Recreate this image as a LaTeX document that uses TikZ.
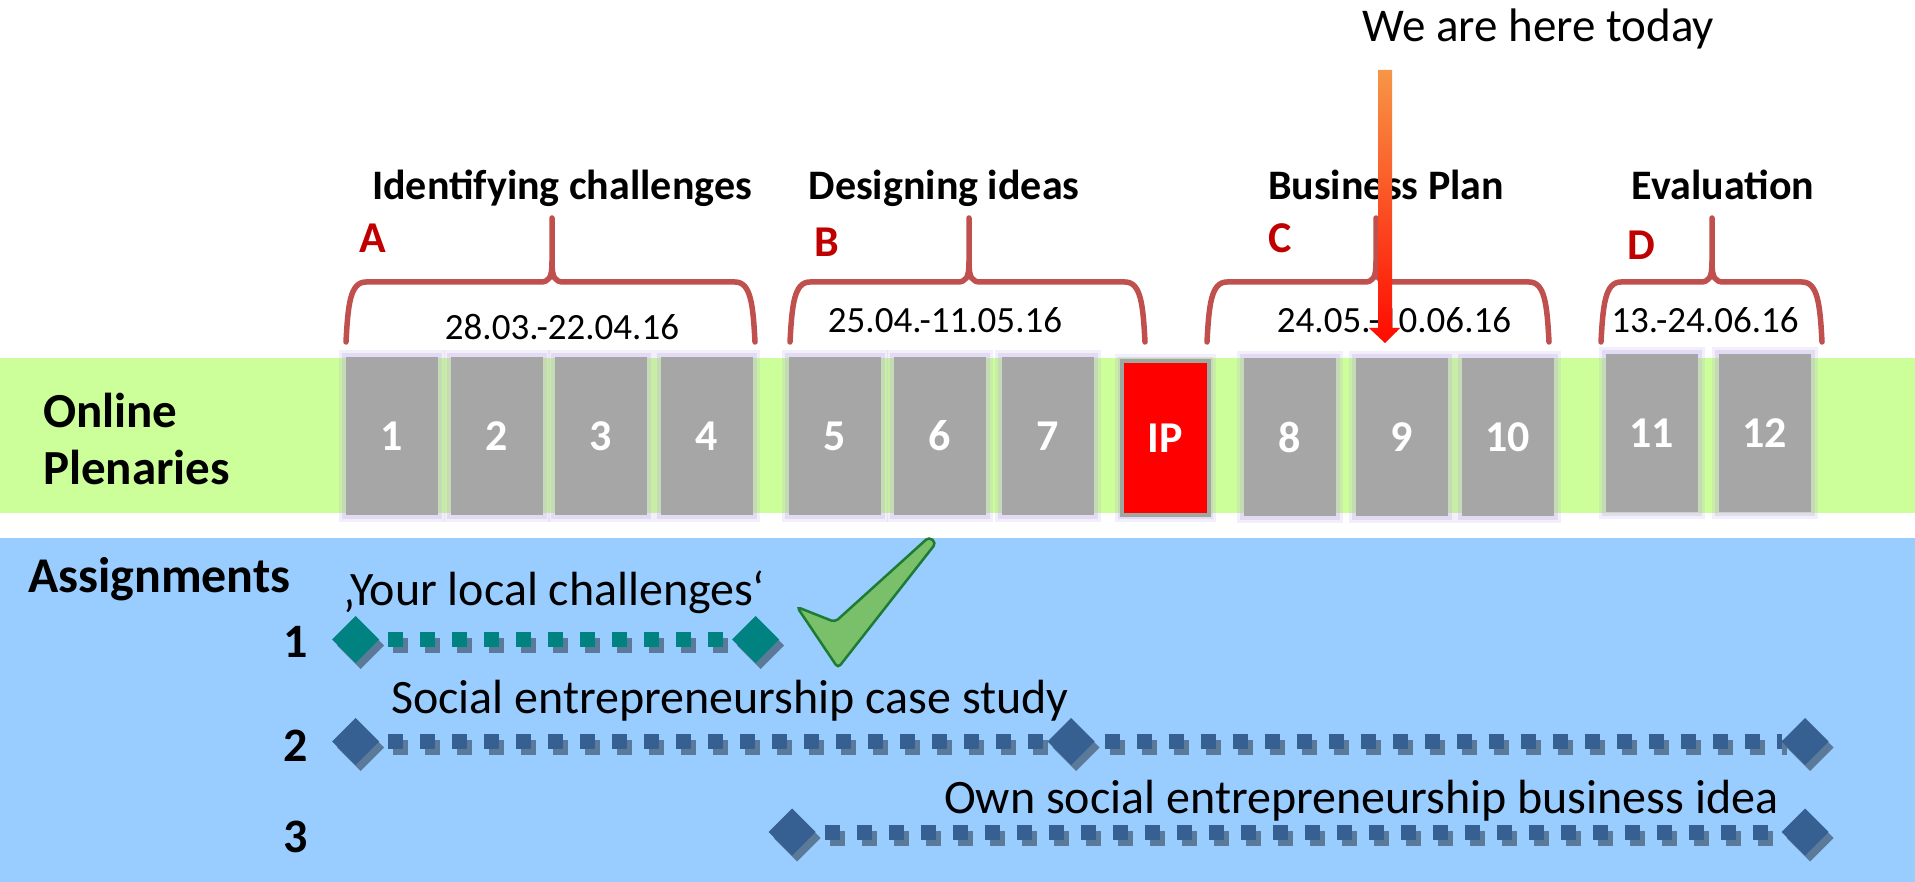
\documentclass[tikz,border=0pt]{standalone}
\usepackage{fontspec}
\setmainfont{Carlito}
\usetikzlibrary{shapes.geometric,shadows,calc}
\definecolor{bandgreen}{RGB}{204,255,153}
\definecolor{bandblue}{RGB}{153,204,255}
\definecolor{boxgrey}{RGB}{166,166,166}
\definecolor{bracered}{RGB}{192,80,77}
\definecolor{letterred}{RGB}{192,0,0}
\definecolor{tealdia}{RGB}{0,130,128}
\definecolor{bluedia}{RGB}{55,96,146}
\definecolor{glow}{RGB}{185,165,228}
\definecolor{ipborder}{RGB}{160,166,160}
\definecolor{checkgreen}{RGB}{122,192,106}
\definecolor{checkline}{RGB}{30,123,52}
\definecolor{arrowtop}{RGB}{247,150,70}
\definecolor{arrowbot}{RGB}{255,10,0}
\pgfdeclarelayer{back}
\pgfdeclarelayer{mid}
\pgfsetlayers{back,mid,main}
\newcommand\mybrace[3]{%
  \draw[bracestyle] (#1,342) .. controls (#1+2,305) and (#1+4,282) .. (#1+20,282)
     -- (#2-12,282) .. controls (#2-3,282) and (#2,278) .. (#2,262) -- (#2,218);
  \draw[bracestyle] (#2,262) .. controls (#2,278) and (#2+3,282) .. (#2+12,282)
     -- (#3-20,282) .. controls (#3-4,282) and (#3-2,305) .. (#3,342);
}
\begin{document}
\begin{tikzpicture}[x=1pt,y=-1pt,
  every node/.style={inner sep=0pt, outer sep=0pt},
  softglow/.style={preaction={draw=glow, draw opacity=0.18, line width=14pt, rounded corners=6pt},
    preaction={draw=glow, draw opacity=0.25, line width=8pt, rounded corners=4pt}},
  sess/.style={rectangle, fill=boxgrey, minimum width=92pt, minimum height=158pt,
    text=white, font=\fontsize{44}{44}\selectfont\bfseries, softglow},
  ipbox/.style={rectangle, fill=red, draw=ipborder, line width=4pt,
    minimum width=87pt, minimum height=154pt,
    text=white, font=\fontsize{44}{44}\selectfont\bfseries, softglow},
  head/.style={anchor=base, font=\fontsize{42}{42}\selectfont\bfseries},
  letter/.style={anchor=base, text=letterred, font=\fontsize{44}{44}\selectfont\bfseries},
  datetext/.style={anchor=base, font=\fontsize{37}{37}\selectfont},
  tasklabel/.style={anchor=base west, font=\fontsize{48}{48}\selectfont},
  rownum/.style={anchor=base, font=\fontsize{48}{48}\selectfont\bfseries},
  bracestyle/.style={draw=bracered, line width=5.5pt, line cap=round, line join=round},
  milestone/.style={diamond, aspect=1, minimum width=47pt, minimum height=47pt,
    drop shadow={shadow xshift=5pt, shadow yshift=-6pt, opacity=0.4, fill=black}},
  dotline/.style={line width=15pt, dash pattern=on 15pt off 17pt},
  dotshadow/.style={dotline, draw=black, draw opacity=0.4,
    transform canvas={shift={(5pt,-6pt)}}}
]
\useasboundingbox (0,0) rectangle (1915,882);
\begin{pgfonlayer}{back}
  \fill[white] (0,0) rectangle (1915,882);
  \fill[bandgreen] (0,358) rectangle (1915,513);
  \fill[bandblue] (0,538) rectangle (1915,882);
\end{pgfonlayer}

% headings
\node[head] (h1) at (562,200) {Identifying challenges};
\node[head] (h2) at (944,200) {Designing ideas};
\node[head] (h3) at (1386,200) {Business Plan};
\node[head] (h4) at (1723,200) {Evaluation};

\node[letter] (la) at (373,253) {A};
\node[letter] (lb) at (827,257) {B};
\node[letter] (lc) at (1280,253) {C};
\node[letter] (ld) at (1641,260) {D};

\mybrace{346}{552}{755}
\mybrace{790}{969}{1145}
\mybrace{1207}{1376}{1549}
\mybrace{1601}{1712}{1822}

\node[datetext] (d1) at (562,340) {28.03.-22.04.16};
\node[datetext] (d2) at (945,333) {25.04.-11.05.16};
\node[datetext] (d3) at (1394,333) {24.05.-10.06.16};
\node[datetext] (d4) at (1705,333) {13.-24.06.16};

% plenaries
\node[anchor=base west, align=left, font=\fontsize{49}{58}\selectfont\bfseries] (op) at (43,485) {Online\\Plenaries};

\node[sess] (s1) at (391.5,436) {1};
\node[sess] (s2) at (496.5,436) {2};
\node[sess] (s3) at (600.5,436) {3};
\node[sess] (s4) at (706.5,436) {4};
\node[sess] (s5) at (835,436) {5};
\node[sess] (s6) at (940,436) {6};
\node[sess] (s7) at (1048,436) {7};
\node[ipbox] (ip) at (1165.5,438) {IP};
\node[sess] (s8) at (1290,437) {8};
\node[sess] (s9) at (1402,437) {9};
\node[sess] (s10) at (1507.5,437) {10};
\node[sess] (s11) at (1651.5,433) {11};
\node[sess] (s12) at (1764.5,433) {12};

% assignments
\node[anchor=base west, font=\fontsize{50}{50}\selectfont\bfseries] (asg) at (28,592) {Assignments};
\node[rownum] (n1) at (296,657) {1};
\node[rownum] (n2) at (296,761) {2};
\node[rownum] (n3) at (296,852) {3};

\node[tasklabel] (t1) at (343,605) {‚Your local challenges‘};
\node[tasklabel] (t2) at (391,713) {Social entrepreneurship case study};
\node[tasklabel] (t3) at (944,813) {Own social entrepreneurship business idea};

\node[milestone, fill=tealdia] (r1a) at (355.5,639.5) {};
\node[milestone, fill=tealdia] (r1b) at (755.5,639.5) {};
\node[milestone, fill=bluedia] (r2a) at (355.5,741.5) {};
\node[milestone, fill=bluedia] (r2b) at (1071,741.5) {};
\node[milestone, fill=bluedia] (r2c) at (1805,741.5) {};
\node[milestone, fill=bluedia] (r3a) at (792,832) {};
\node[milestone, fill=bluedia] (r3b) at (1805,832) {};

\begin{pgfonlayer}{mid}
  \draw[dotshadow, shorten <=9pt, shorten >=4pt] (r1a.east) -- (r1b.west);
  \draw[dotline, draw=tealdia, shorten <=9pt, shorten >=4pt] (r1a.east) -- (r1b.west);
  \draw[dotshadow, shorten <=9pt, shorten >=0pt] (r2a.east) -- (r2b.west);
  \draw[dotline, draw=bluedia, shorten <=9pt, shorten >=0pt] (r2a.east) -- (r2b.west);
  \draw[dotshadow, shorten <=10pt, shorten >=0pt] (r2b.east) -- (r2c.west);
  \draw[dotline, draw=bluedia, shorten <=10pt, shorten >=0pt] (r2b.east) -- (r2c.west);
  \draw[dotshadow, shorten <=9pt, shorten >=0pt] (r3a.east) -- (r3b.west);
  \draw[dotline, draw=bluedia, shorten <=9pt, shorten >=0pt] (r3a.east) -- (r3b.west);
\end{pgfonlayer}

% check mark
\draw[fill=checkgreen, draw=checkline, line width=2.5pt, rounded corners=4pt]
  (797,607) -- (835,622) -- (929,537) -- (936,543) -- (838,668) -- cycle;

% we are here today
\node[anchor=base, font=\fontsize{47}{47}\selectfont] (today) at (1538,42) {We are here today};
\shade[top color=arrowtop, bottom color=arrowbot]
  (1378,70) -- (1392,70) -- (1392,328) -- (1400,328) -- (1385,343)
  -- (1369,328) -- (1378,328) -- cycle;
\end{tikzpicture}
\end{document}
